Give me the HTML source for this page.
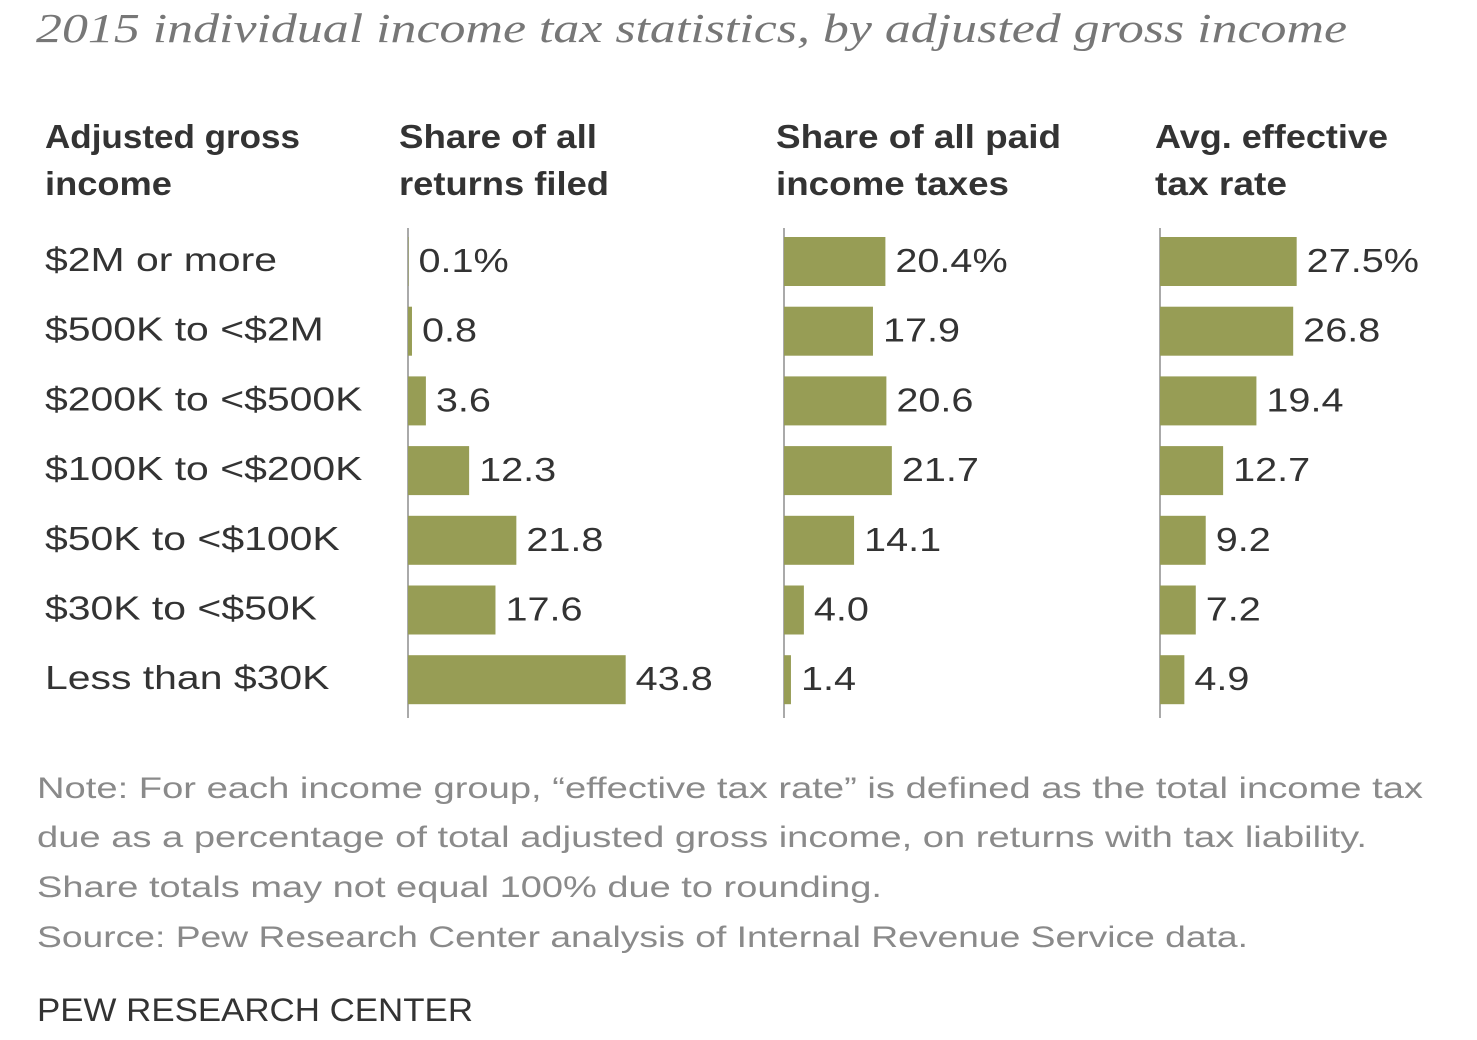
<!DOCTYPE html>
<html><head><meta charset="utf-8"><style>
body{margin:0;background:#fff;width:1477px;height:1040px;overflow:hidden;font-family:"Liberation Sans",sans-serif;}
svg{display:block}
</style></head><body>
<svg id="chart" width="1477" height="1040">
<text x="36" y="42" font-family="Liberation Serif,serif" font-style="italic" font-size="41" fill="#777" textLength="1311" lengthAdjust="spacingAndGlyphs">2015 individual income tax statistics, by adjusted gross income</text>
<g font-size="33" font-weight="bold" fill="#333">
<text x="45" y="148" textLength="255" lengthAdjust="spacingAndGlyphs">Adjusted gross</text><text x="45" y="195" textLength="127" lengthAdjust="spacingAndGlyphs">income</text>
<text x="399" y="148" textLength="198" lengthAdjust="spacingAndGlyphs">Share of all</text><text x="399" y="195" textLength="210" lengthAdjust="spacingAndGlyphs">returns filed</text>
<text x="776" y="148" textLength="285" lengthAdjust="spacingAndGlyphs">Share of all paid</text><text x="776" y="195" textLength="233" lengthAdjust="spacingAndGlyphs">income taxes</text>
<text x="1155" y="148" textLength="233" lengthAdjust="spacingAndGlyphs">Avg. effective</text><text x="1155" y="195" textLength="132" lengthAdjust="spacingAndGlyphs">tax rate</text>
</g>
<g id="rows"></g>
<g id="bars"></g>
<g font-size="30" fill="#8a8a8a">
<text x="37" y="798" textLength="1386" lengthAdjust="spacingAndGlyphs">Note: For each income group, “effective tax rate” is defined as the total income tax</text>
<text x="37" y="847" textLength="1330" lengthAdjust="spacingAndGlyphs">due as a percentage of total adjusted gross income, on returns with tax liability.</text>
<text x="37" y="897" textLength="845" lengthAdjust="spacingAndGlyphs">Share totals may not equal 100% due to rounding.</text>
<text x="37" y="947" textLength="1211" lengthAdjust="spacingAndGlyphs">Source: Pew Research Center analysis of Internal Revenue Service data.</text>
</g>
<text x="37" y="1021" font-size="32" fill="#333" textLength="436" lengthAdjust="spacingAndGlyphs">PEW RESEARCH CENTER</text>
</svg>
<script>
const categories=["$2M or more","$500K to <$2M","$200K to <$500K","$100K to <$200K","$50K to <$100K","$30K to <$50K","Less than $30K"];
const returnsShare=[0.1,0.8,3.6,12.3,21.8,17.6,43.8];
const taxesShare=[20.4,17.9,20.6,21.7,14.1,4.0,1.4];
const effRate=[27.5,26.8,19.4,12.7,9.2,7.2,4.9];
const returnsLabels=["0.1%","0.8","3.6","12.3","21.8","17.6","43.8"];
const taxesLabels=["20.4%","17.9","20.6","21.7","14.1","4.0","1.4"];
const rateLabels=["27.5%","26.8","19.4","12.7","9.2","7.2","4.9"];
const NS="http://www.w3.org/2000/svg";
const scale=v=>v*4.97;
const rowY=i=>237+i*69.7;
function widen(t,f){const w=t.getComputedTextLength();t.setAttribute('textLength',w*f);t.setAttribute('lengthAdjust','spacingAndGlyphs');}
const rows=document.getElementById('rows');
categories.forEach((c,i)=>{
 const t=document.createElementNS(NS,'text');
 t.setAttribute('x',45);t.setAttribute('y',rowY(i)+34);
 t.setAttribute('font-size','33');t.setAttribute('fill','#333');
 
 
 t.textContent=c;rows.appendChild(t);widen(t,1.24);
});
const bars=document.getElementById('bars');
const panels=[[408,returnsShare,returnsLabels,'returns'],[784,taxesShare,taxesLabels,'taxes'],[1160,effRate,rateLabels,'rate']];
panels.forEach(([x0,vals,labs,nm])=>{
 const ax=document.createElementNS(NS,'line');
 ax.setAttribute('x1',x0);ax.setAttribute('x2',x0);ax.setAttribute('y1',228);ax.setAttribute('y2',718);
 ax.setAttribute('stroke','#aaa');ax.setAttribute('stroke-width','2');
 
 
 bars.appendChild(ax);
 vals.forEach((v,i)=>{
  const r=document.createElementNS(NS,'rect');
  r.setAttribute('x',x0);r.setAttribute('y',rowY(i));r.setAttribute('width',Math.max(scale(v),0.5));r.setAttribute('height',49);
  r.setAttribute('fill','#979d55');
  
  
  bars.appendChild(r);
  const t=document.createElementNS(NS,'text');
  t.setAttribute('x',x0+scale(v)+10);t.setAttribute('y',rowY(i)+35);
  t.setAttribute('font-size','33');t.setAttribute('fill','#333');
  
  
  t.textContent=labs[i];bars.appendChild(t);widen(t,1.2);
 });
});
</script>
</body></html>
